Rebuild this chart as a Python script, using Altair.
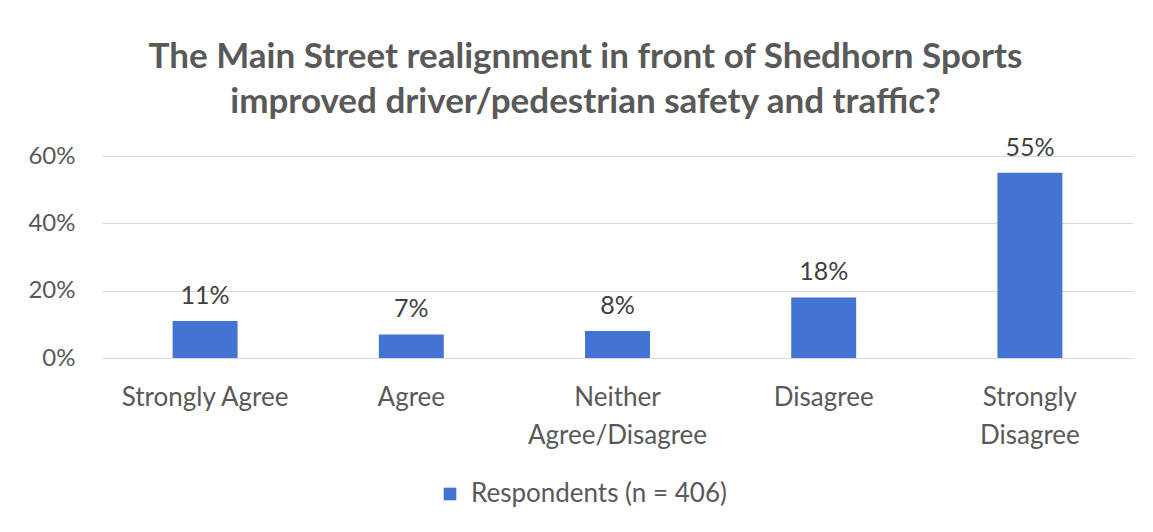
import altair as alt
import pandas as pd

categories = ["Strongly Agree", "Agree", "Neither Agree/Disagree", "Disagree", "Strongly Disagree"]
values = [0.11, 0.07, 0.08, 0.18, 0.55]
label_lines = [["Strongly Agree"], ["Agree"], ["Neither", "Agree/Disagree"], ["Disagree"], ["Strongly", "Disagree"]]
series_name = "Respondents (n = 406)"
y_ticks = [0, 0.2, 0.4, 0.6]
title_lines = ["The Main Street realignment in front of Shedhorn Sports",
               "improved driver/pedestrian safety and traffic?"]

FONT = "Lato"
GRAY = "#595959"
BAR = "#4473D6"

df = pd.DataFrame({"category": categories, "value": values, "series": [series_name] * len(categories)})

# build multi-line label expression
expr = "datum.label"
for cat, lines in zip(categories, label_lines):
    if len(lines) > 1:
        arr = "[" + ",".join("'" + l + "'" for l in lines) + "]"
        expr = f"datum.value == '{cat}' ? {arr} : " + expr

x = alt.X("category:N", sort=categories, title=None,
          scale=alt.Scale(paddingInner=0.685, paddingOuter=0.3425),
          axis=alt.Axis(labelAngle=0, labelExpr=expr, labelFont=FONT, labelFontSize=26,
                        labelColor=GRAY, labelPadding=26, labelLineHeight=38,
                        labelBaseline="top", ticks=False, domain=False, grid=False,
                        labelLimit=400))
y = alt.Y("value:Q", title=None,
          scale=alt.Scale(domain=[0, 0.6], nice=False),
          axis=alt.Axis(values=y_ticks, format=".0%", labelFont=FONT, labelFontSize=24,
                        labelColor=GRAY, labelPadding=27, ticks=False, domain=False,
                        gridColor="#d9d9d9", gridWidth=1))

bars = alt.Chart(df).mark_bar().encode(
    x=x, y=y,
    color=alt.Color("series:N", scale=alt.Scale(domain=[series_name], range=[BAR]),
                    legend=alt.Legend(title=None, orient="none", legendX=335, legendY=325,
                                      direction="horizontal", symbolType="square",
                                      symbolSize=160, symbolStrokeWidth=0,
                                      labelFont=FONT, labelFontSize=26, labelColor=GRAY,
                                      labelOffset=8, labelLimit=500))
)

text = alt.Chart(df).mark_text(baseline="bottom", dy=-12, font=FONT, fontSize=25, color="#404040").encode(
    x=alt.X("category:N", sort=categories),
    y=alt.Y("value:Q"),
    text=alt.Text("value:Q", format=".0%"),
)

chart = alt.layer(bars, text).properties(
    width=1031, height=202,
    title=alt.TitleParams(text=title_lines, font=FONT, fontSize=35, fontWeight="bold",
                          color=GRAY, lineHeight=45, offset=16, dx=-32, anchor="middle"),
    autosize=alt.AutoSizeParams(type="none"),
    padding={"left": 94, "top": 148, "right": 12, "bottom": 166},
).configure(background="white").configure_view(stroke=None)

chart.save("out.html", embed_options={"renderer": "svg", "actions": False})
